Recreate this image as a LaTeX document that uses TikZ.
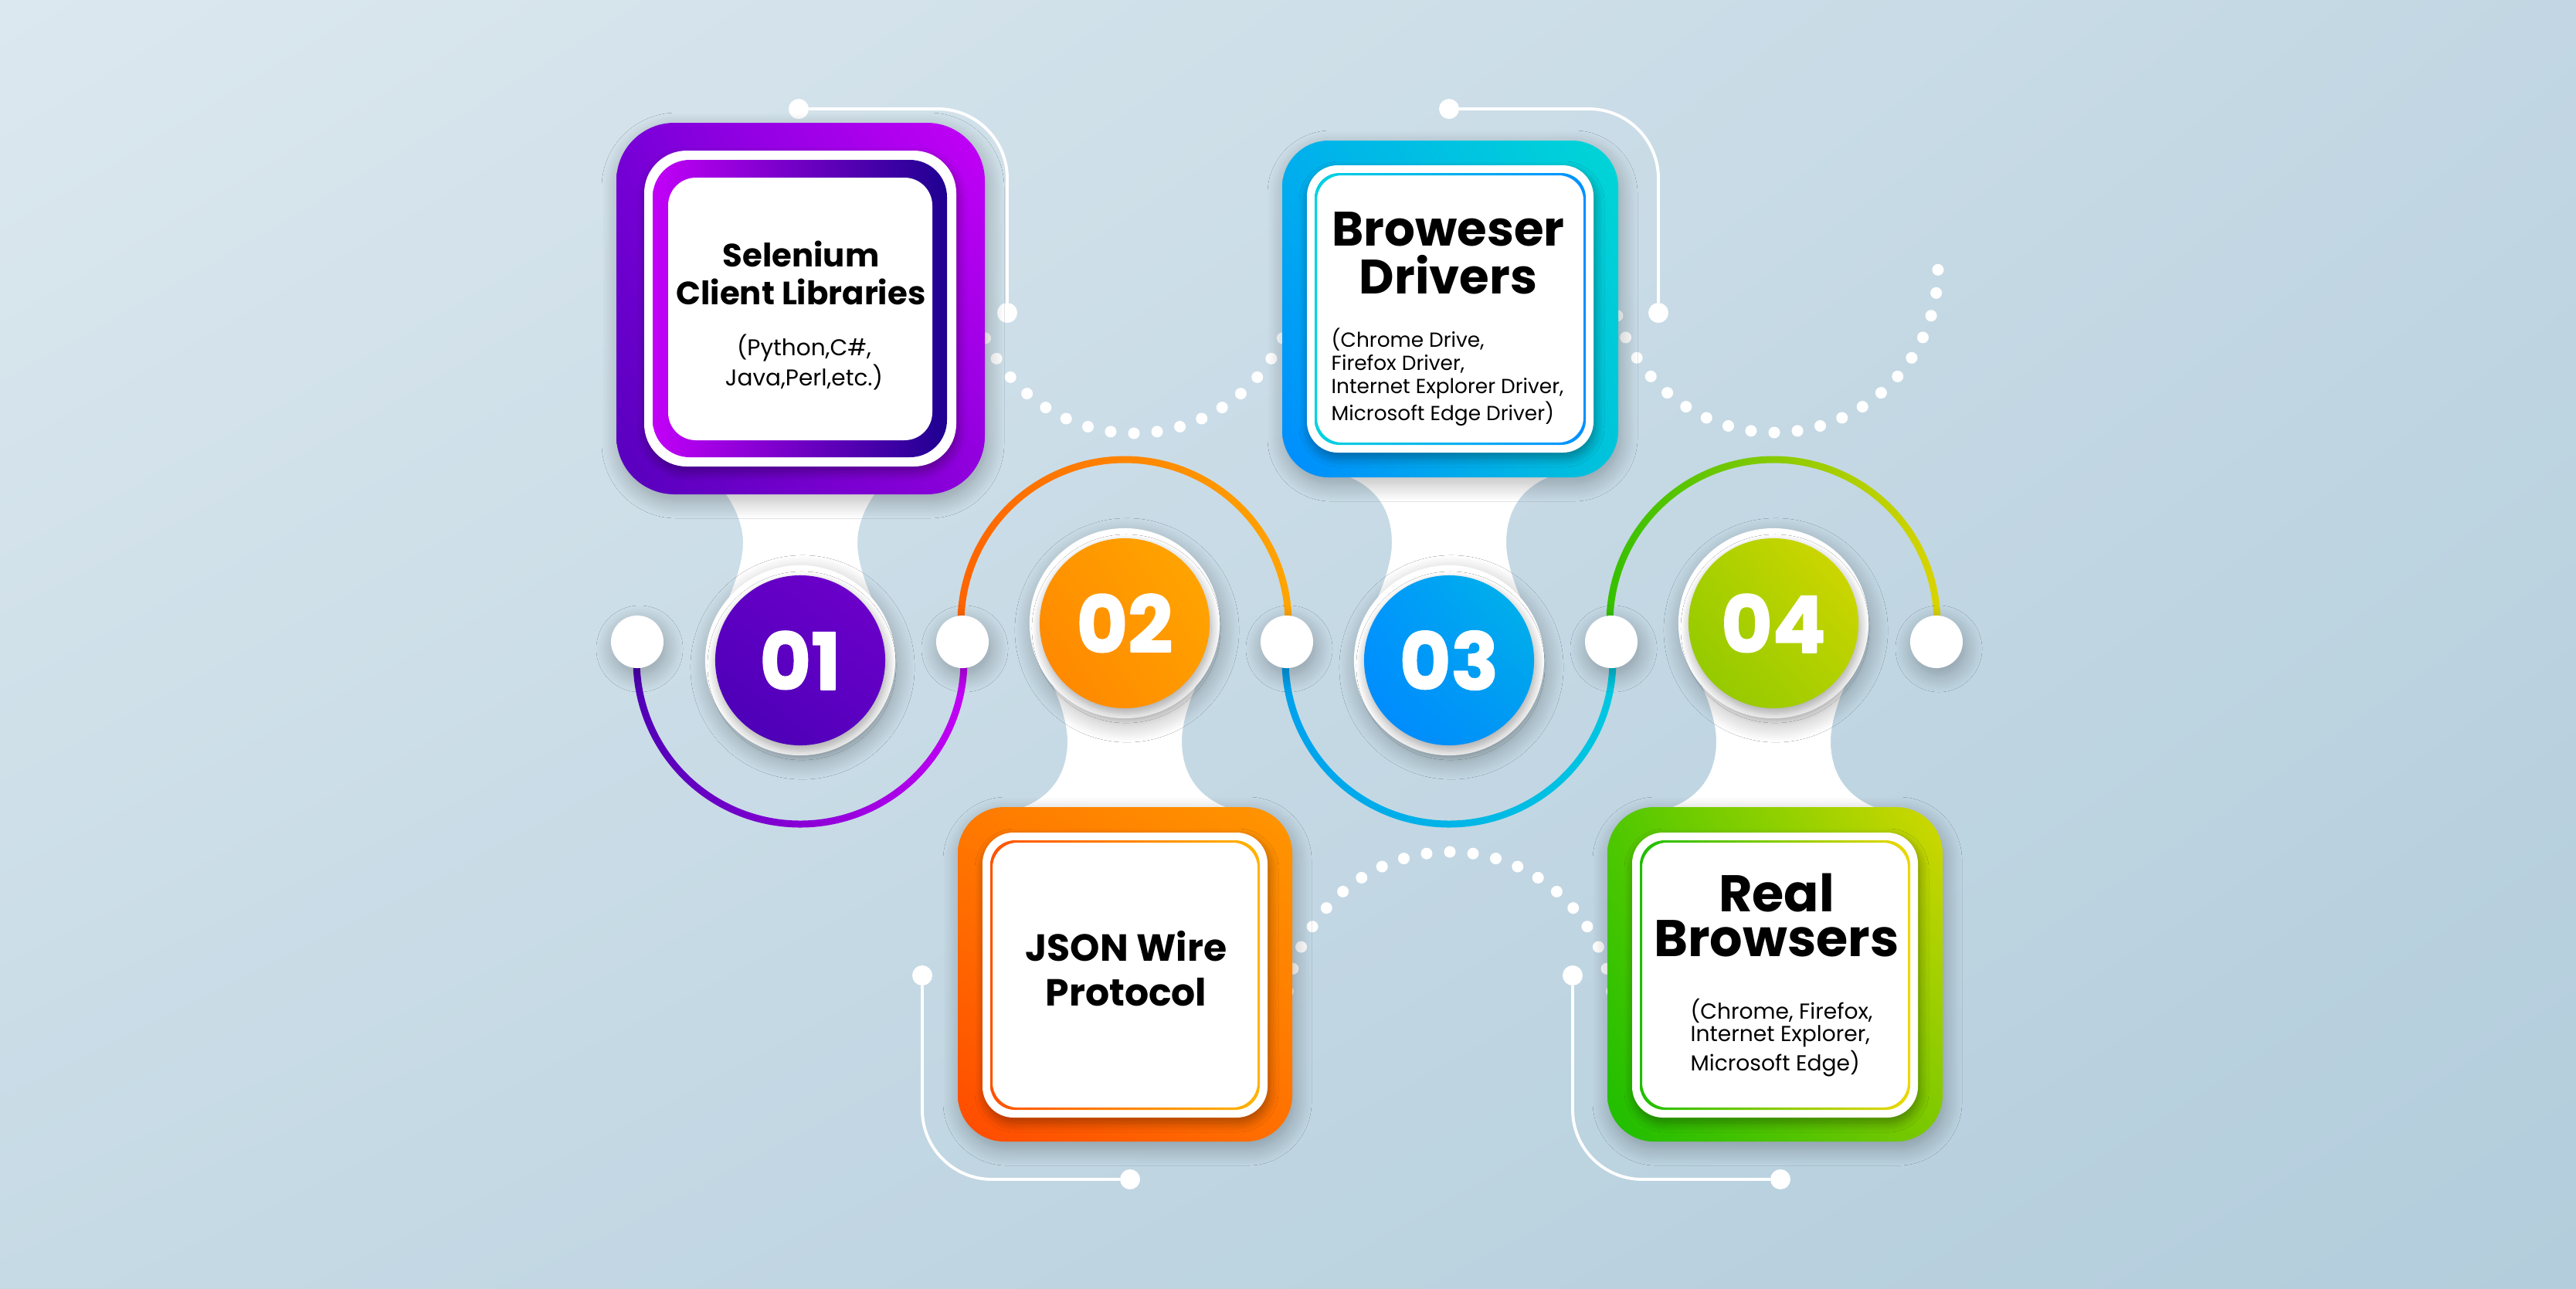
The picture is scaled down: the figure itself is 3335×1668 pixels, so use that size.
\documentclass[tikz,border=0pt]{standalone}
\usepackage{fontspec}
\setmainfont{Poppins}
\newfontfamily\numfont{Poppins}[BoldFeatures={FakeBold=1.6}]
\usetikzlibrary{shadings,shadows.blur}

% --- background ---
\definecolor{bgTL}{HTML}{DCE8EF}
\definecolor{bgTR}{HTML}{C2D7E3}
\definecolor{bgBL}{HTML}{C6DAE5}
\definecolor{bgBR}{HTML}{B3CDDC}
% --- step 1 (purple) ---
\definecolor{puUL}{HTML}{7800D8}
\definecolor{puUR}{HTML}{C400F8}
\definecolor{puLL}{HTML}{5600BC}
\definecolor{puLR}{HTML}{8E00DC}
\definecolor{puHot}{HTML}{C200F8}
\definecolor{puNavy}{HTML}{1E0090}
\definecolor{dk1UL}{HTML}{6000C4}
\definecolor{dk1UR}{HTML}{7000CC}
\definecolor{dk1LL}{HTML}{4800B4}
\definecolor{dk1LR}{HTML}{5A00C0}
\definecolor{rg1L}{HTML}{4C00B4}
\definecolor{rg1R}{HTML}{C400F6}
% --- step 2 (orange) ---
\definecolor{orUL}{HTML}{FF7A00}
\definecolor{orUR}{HTML}{FF9600}
\definecolor{orLL}{HTML}{FF4A00}
\definecolor{orLR}{HTML}{FF7000}
\definecolor{orLnL}{HTML}{FF5200}
\definecolor{orLnR}{HTML}{FFB400}
\definecolor{dk2UL}{HTML}{FF9400}
\definecolor{dk2UR}{HTML}{FFA800}
\definecolor{dk2LL}{HTML}{FF8400}
\definecolor{dk2LR}{HTML}{FF9A00}
\definecolor{rg2L}{HTML}{FF6200}
\definecolor{rg2R}{HTML}{FFA600}
% --- step 3 (blue) ---
\definecolor{blUL}{HTML}{00B0EC}
\definecolor{blUR}{HTML}{00D6D6}
\definecolor{blLL}{HTML}{008CFF}
\definecolor{blLR}{HTML}{00C4DA}
\definecolor{blLnL}{HTML}{00D2E0}
\definecolor{blLnR}{HTML}{0090FF}
\definecolor{dk3UL}{HTML}{0098FC}
\definecolor{dk3UR}{HTML}{00B6E6}
\definecolor{dk3LL}{HTML}{0088FF}
\definecolor{dk3LR}{HTML}{0098F4}
\definecolor{rg3L}{HTML}{00A0EE}
\definecolor{rg3R}{HTML}{00C8E0}
% --- step 4 (green) ---
\definecolor{grUL}{HTML}{50C800}
\definecolor{grUR}{HTML}{D2D800}
\definecolor{grLL}{HTML}{1CBE00}
\definecolor{grLR}{HTML}{7CC800}
\definecolor{grLnL}{HTML}{20BE00}
\definecolor{grLnR}{HTML}{EDD800}
\definecolor{dk4UL}{HTML}{A8D000}
\definecolor{dk4UR}{HTML}{D8D800}
\definecolor{dk4LL}{HTML}{8CC800}
\definecolor{dk4LR}{HTML}{B0D000}
\definecolor{rg4L}{HTML}{30C000}
\definecolor{rg4R}{HTML}{DCD400}

\begin{document}
\begin{tikzpicture}[x=0.01cm,y=-0.01cm,line join=round,line cap=round]
	\tikzset{
		softdrop/.style={blur shadow={shadow xshift=0.03cm,shadow yshift=-0.09cm,shadow opacity=28,shadow blur radius=0.22cm,shadow blur steps=14}},
		innerdrop/.style={blur shadow={shadow xshift=0.02cm,shadow yshift=-0.07cm,shadow opacity=35,shadow blur radius=0.12cm,shadow blur steps=10}},
		tipdot/.style={circle,fill=white,inner sep=0pt,minimum size=0.26cm},
		middot/.style={circle,fill=white,inner sep=0pt,minimum size=0.68cm,softdrop},
		halo/.style={circle,fill=white,inner sep=0pt,minimum size=2.46cm,softdrop},
		numdisc/.style={circle,inner sep=0pt,minimum size=2.2cm,text=white,font=\numfont\fontsize{29}{29}\selectfont\bfseries,innerdrop},
		wire/.style={white,line width=1.1pt,rounded corners=0.9cm},
		ttl/.style={anchor=base,align=center,inner sep=0pt,text=black},
		sub/.style={anchor=base west,align=left,inner sep=0pt,text=black},
	}
	\def\ro{216.5} \def\ri{207.5}
	\useasboundingbox (0,0) rectangle (3335,1668);
	
	% --- background ---
	\shade[upper left=bgTL,upper right=bgTR,lower left=bgBL,lower right=bgBR] (0,0) rectangle (3335,1668);
	
	% --- dotted arcs ---
	\foreach \k in {-11,...,11}{
		\fill[white] (1468,349) ++({90+8.15*\k}:212) circle[radius=7.5];
		\fill[white] (2297,348) ++({90+8.15*\k}:212) circle[radius=7.5];
		\fill[white] (1877,1315) ++({270+8.15*\k}:212) circle[radius=7.5];
	}
	
	% --- wires with end dots ---
	\node[tipdot] (wa1) at (1034,141) {};
	\node[tipdot] (wa2) at (1304,405) {};
	\node[tipdot] (wb1) at (1876,141) {};
	\node[tipdot] (wb2) at (2147,405) {};
	\node[tipdot] (wc1) at (1194,1263) {};
	\node[tipdot] (wc2) at (1463,1527) {};
	\node[tipdot] (wd1) at (2036,1263) {};
	\node[tipdot] (wd2) at (2305,1527) {};
	\draw[wire] (wa1) -| (wa2);
	\draw[wire] (wb1) -| (wb2);
	\draw[wire] (wc1) |- (wc2);
	\draw[wire] (wd1) |- (wd2);
	
	% --- coloured rings ---
	\foreach \cx/\cy/\a/\b/\cl/\cr in {1036/855/186.5/-6.5/rg1L/rg1R,1456/807/173.5/366.5/rg2L/rg2R,
		1876/855/186.5/-6.5/rg3L/rg3R,2296/807/173.5/366.5/rg4L/rg4R}{
		\shade[left color=\cl,right color=\cr] (\cx,\cy) ++(\a:\ro) arc[start angle=\a,end angle=\b,radius=\ro]
		-- ++(\b:-9) arc[start angle=\b,end angle=\a,radius=\ri] -- cycle;
	}
	
	% --- white stems ---
	\begin{scope}[shift={(1036,855)}]
		\fill[white] (-92,-82) .. controls (-80,-110) and (-74,-135) .. (-74,-152) .. controls (-74,-175) and (-84,-200) .. (-100,-220)
		-- (100,-220) .. controls (84,-200) and (74,-175) .. (74,-152) .. controls (74,-135) and (80,-110) .. (92,-82) -- cycle;
	\end{scope}
	\foreach \cx/\cy/\s in {1456/807/-1,1876/855/1,2296/807/-1}{
		\begin{scope}[shift={(\cx,\cy)},yscale=\s]
			\fill[white] (-92,-82) .. controls (-80,-110) and (-74,-135) .. (-74,-152) .. controls (-74,-195) and (-95,-228) .. (-142,-242)
			-- (142,-242) .. controls (95,-228) and (74,-195) .. (74,-152) .. controls (74,-135) and (80,-110) .. (92,-82) -- cycle;
		\end{scope}
	}
	
	% --- number discs ---
	\node[halo] (h1) at (1036,855) {};
	\node[halo] (h2) at (1456,807) {};
	\node[halo] (h3) at (1876,855) {};
	\node[halo] (h4) at (2296,807) {};
	\node[numdisc,upper left=dk1UL,upper right=dk1UR,lower left=dk1LL,lower right=dk1LR] (n1) at (h1) {01};
	\node[numdisc,upper left=dk2UL,upper right=dk2UR,lower left=dk2LL,lower right=dk2LR] (n2) at (h2) {02};
	\node[numdisc,upper left=dk3UL,upper right=dk3UR,lower left=dk3LL,lower right=dk3LR] (n3) at (h3) {03};
	\node[numdisc,upper left=dk4UL,upper right=dk4UR,lower left=dk4LL,lower right=dk4LR] (n4) at (h4) {04};
	
	% --- box 1 ---
	\shade[softdrop,rounded corners=0.75cm,upper left=puUL,upper right=puUR,lower left=puLL,lower right=puLR] (798,159) rectangle (1275,640);
	\fill[white,innerdrop,rounded corners=0.55cm] (834,195) rectangle (1238,604);
	\shade[rounded corners=0.48cm,left color=puHot,right color=puNavy] (845,207) rectangle (1226,592);
	\fill[white,rounded corners=0.36cm] (865,230) rectangle (1207,570);
	
	% --- box 3 ---
	\shade[softdrop,rounded corners=0.6cm,upper left=blUL,upper right=blUR,lower left=blLL,lower right=blLR] (1660,182) rectangle (2095,618);
	\fill[white,innerdrop,rounded corners=0.4cm] (1692,214) rectangle (2063,586);
	\shade[even odd rule,rounded corners=0.32cm,left color=blLnL,right color=blLnR] (1702,224) rectangle (2053,576) (1705,227) rectangle (2050,573);
	
	% --- box 2 ---
	\shade[softdrop,rounded corners=0.6cm,upper left=orUL,upper right=orUR,lower left=orLL,lower right=orLR] (1240,1045) rectangle (1673,1478);
	\fill[white,innerdrop,rounded corners=0.4cm] (1272,1078) rectangle (1641,1447);
	\shade[even odd rule,rounded corners=0.32cm,left color=orLnL,right color=orLnR] (1282,1088) rectangle (1631,1437) (1285,1091) rectangle (1628,1434);
	
	% --- box 4 ---
	\shade[softdrop,rounded corners=0.6cm,upper left=grUL,upper right=grUR,lower left=grLL,lower right=grLR] (2081,1045) rectangle (2515,1478);
	\fill[white,innerdrop,rounded corners=0.4cm] (2113,1078) rectangle (2483,1447);
	\shade[even odd rule,rounded corners=0.32cm,left color=grLnL,right color=grLnR] (2123,1088) rectangle (2473,1437) (2126,1091) rectangle (2470,1434);
	
	% --- dots on the middle line ---
	\node[middot] (m0) at (825,831) {};
	\node[middot] (m1) at (1246,831) {};
	\node[middot] (m2) at (1666,831) {};
	\node[middot] (m3) at (2086,831) {};
	\node[middot] (m4) at (2507,831) {};
	
	% --- texts (anchored at the last baseline) ---
	\node[ttl,font=\fontsize{11.9}{13.9}\selectfont\bfseries] (t1) at (1037,394) {Selenium\\Client Libraries};
	\node[ttl,font=\fontsize{8.4}{9.7}\selectfont] (s1) at (1041,499) {(Python,C\#,\\Java,Perl,etc.)};
	\node[ttl,font=\fontsize{17.8}{17.5}\selectfont\bfseries] (t3) at (1875,380) {Broweser\\Drivers};
	\node[sub,font=\fontsize{7.5}{8.5}\selectfont] (s3) at (1723,544) {(Chrome Drive,\\Firefox Driver,\\Internet Explorer Driver,\\Microsoft Edge Driver)};
	\node[ttl,font=\fontsize{13.9}{16.3}\selectfont\bfseries] (t2) at (1458,1302) {JSON Wire\\Protocol};
	\node[ttl,font=\fontsize{19}{16.3}\selectfont\bfseries] (t4) at (2300,1238) {Real\\Browsers};
	\node[sub,font=\fontsize{8}{8.5}\selectfont] (s4) at (2188,1386) {(Chrome, Firefox,\\Internet Explorer,\\Microsoft Edge)};
\end{tikzpicture}
\end{document}
